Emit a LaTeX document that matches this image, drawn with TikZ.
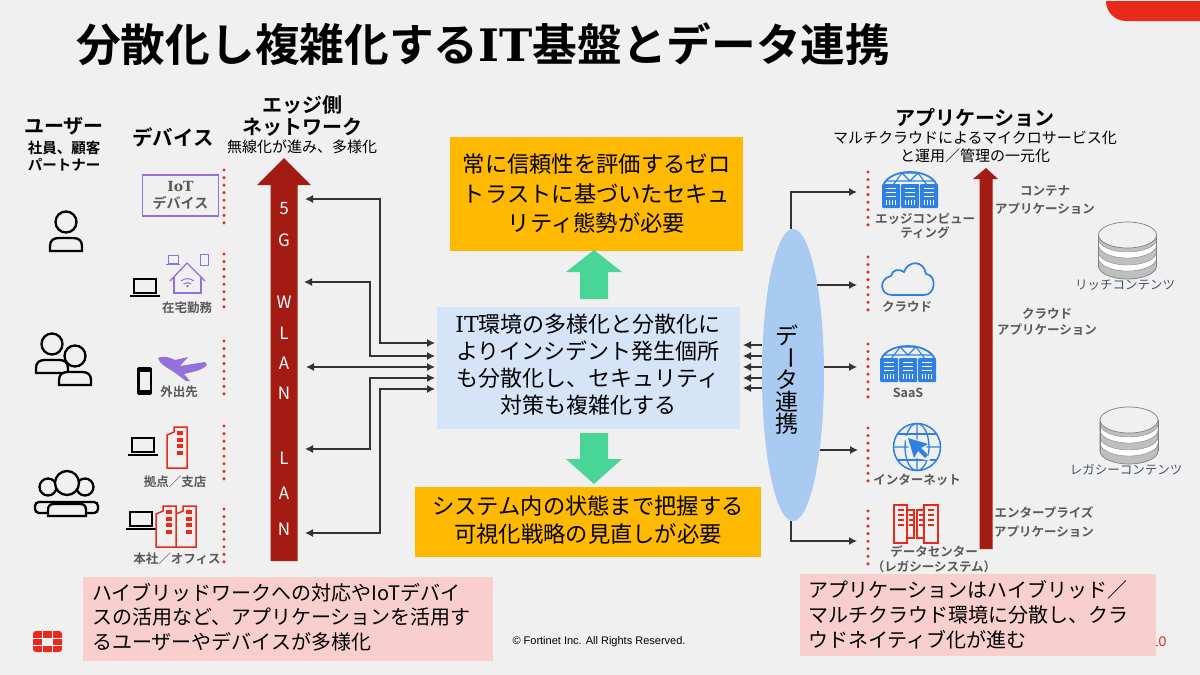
\documentclass[tikz,border=0pt]{standalone}
\usepackage{fontspec}
\setmainfont{Noto Sans CJK JP}[BoldFont={Noto Sans CJK JP Bold}]
\newfontfamily\latinfont{Liberation Sans}
\newfontfamily\slabfont{DejaVu Serif}
\usetikzlibrary{arrows.meta,shapes.geometric}
\definecolor{fondgris}{HTML}{F0F0F0}
\definecolor{rougeF}{HTML}{E8291C}
\definecolor{rougeA}{HTML}{A31B12}
\definecolor{orangeB}{HTML}{FFB900}
\definecolor{bleuB}{HTML}{D6E4F8}
\definecolor{bleuE}{HTML}{A9CBF1}
\definecolor{bleuI}{HTML}{2F80E4}
\definecolor{vertF}{HTML}{48D597}
\definecolor{roseB}{HTML}{F9CFCD}
\definecolor{violetI}{HTML}{9470DC}
\definecolor{grisT}{HTML}{595959}
\definecolor{ardoise}{HTML}{44546A}
\newcommand{\fs}[2]{\fontsize{#1}{#2}\selectfont}
\newcommand{\IT}{{\slabfont IT}}
\tikzset{conn/.style = {draw=black!80, line width=1.2, -{Latex[length=8,width=8]}},
         connd/.style = {conn, {Latex[length=8,width=8]}-{Latex[length=8,width=8]}},
         head/.style = {font=\fs{20}{22}\bfseries, align=center, inner sep=0},
         soustitre/.style = {font=\fs{15}{18}, align=center, inner sep=0},
         petit/.style = {font=\fs{12.5}{14.5}\bfseries, text=grisT, align=center, inner sep=0},
         contenu/.style = {font=\fs{12.5}{15}, text=ardoise, align=center, inner sep=0},
         boite/.style = {font=\fs{22.3}{29.5}, align=center, inner sep=0},
         lettre/.style = {font=\fs{17}{17}, text=white, inner sep=0},
         person/.pic = {\draw[line width=2.3] (0,-29) circle (10.5);
                        \draw[line width=2.3, fill=fondgris] (-16,0) -- (-16,-5) .. controls (-16,-11) and (-12,-13) .. (-7,-13) -- (7,-13) .. controls (12,-13) and (16,-11) .. (16,-5) -- (16,0) -- cycle;},
         laptop/.pic = {\draw[line width=1.8] (-11,-17) rectangle (11,-3);
                        \draw[line width=1.8] (-15,0) -- (15,0);},
         immeuble/.pic = {\draw[rougeF, line width=1.5, fill=fondgris] (-10,0) -- (-10,-33) -- (-3,-36) -- (-3,-41) -- (10,-41) -- (10,0) -- cycle;
                          \foreach \ya in {-37,-30,-24,-17} {\fill[rougeF] (0,\ya) rectangle (6,\ya+4);}},
         dome/.pic = {\draw[bleuI, line width=1.8] (-27,-8) arc (180:360:27 and 16);
                      \draw[bleuI, line width=1.1] (-23,-15) -- (23,-15) (-17,-11) -- (-8,-23) -- (0,-15) -- (8,-23) -- (17,-11) (-8,-23) -- (8,-23);
                      \foreach \xa in {-19,0,19} {\fill[bleuI, rounded corners=1] (\xa-9,-12) rectangle (\xa+9,12);
                        \foreach \ya in {-8,-4,0} {\draw[white, line width=0.9] (\xa-5,\ya) -- (\xa+5,\ya);}
                        \foreach \xb in {-5,-2,1,4} {\draw[white, line width=1] (\xa+\xb,4) -- (\xa+\xb,9);}}},
         disque/.pic = {\draw[gray, fill=black!25, line width=0.7] (-29,0) -- (-29,31) arc (180:0:29 and 13) -- (29,0) -- cycle;
                        \foreach \ya in {4,17} {\fill[white, draw=gray, line width=0.4] (-29,\ya) arc (180:0:29 and 13) -- (29,\ya+6) arc (0:180:29 and 13) -- cycle;}
                        \draw[gray, line width=0.7] (-29,0) -- (-29,31) (29,0) -- (29,31);
                        \draw[gray, fill=black!6, line width=0.7] (0,0) ellipse (29 and 13);}
        }
\begin{document}
\begin{tikzpicture}[x=1pt, y=-1pt]
  \useasboundingbox[fill=fondgris] (0,0) rectangle (1200,675);

  \fill[rougeF] (1106,1) -- (1200,1) -- (1200,21) -- (1126,21) arc (90:180:20) -- cycle;
  \node[font=\fs{44.7}{48}\bfseries, anchor=west, inner sep=0] (titre) at (76,44) {分散化し複雑化する\IT{}基盤とデータ連携};

  \node[head] (user) at (64,126) {ユーザー};
  \node[font=\fs{14.5}{17}\bfseries, align=center, inner sep=0] (usersub) at (64,156) {社員、顧客\\パートナー};
  \node[head, font=\fs{20.5}{22}\bfseries] (device) at (173,137) {デバイス};
  \node[head] (edge) at (302,116) {エッジ側\\ネットワーク};
  \node[soustitre] (edgesub) at (302,147) {無線化が進み、多様化};
  \node[head] (app) at (975,118) {アプリケーション};
  \node[soustitre] (appsub) at (975,147) {マルチクラウドによるマイクロサービス化\\と運用／管理の一元化};

  \path (66,251) pic {person};
  \path (52,373) pic {person};
  \path (75,385) pic {person};
  \draw[line width=2.3] (48,487) circle (8.5) (85,487) circle (8.5);
  \draw[line width=2.3, rounded corners=4] (35,513) -- (35,502) -- (98,502) -- (98,513) -- cycle;
  \draw[line width=2.3, fill=fondgris] (67,483) circle (12);
  \draw[line width=2.3, fill=fondgris] (48,516) -- (48,510) .. controls (48,506) and (50,504) .. (54,504) -- (80,504) .. controls (84,504) and (86,506) .. (86,510) -- (86,516) -- cycle;

  \node[draw=violetI, line width=1.4, fill=fondgris, minimum width=76, minimum height=41, font=\fs{14}{16.5}\bfseries, text=grisT, align=center, inner sep=0] (iot) at (180.5,195.5) {{\slabfont IoT}\\デバイス};

  \path (145,296) pic {laptop};
  \draw[violetI, line width=1.3] (174,277) -- (174,293) -- (201,293) -- (201,277);
  \draw[violetI, line width=1.3] (170,281) -- (187,263) -- (205,281);
  \draw[violetI, line width=1] (181,281) arc (230:310:10) (183.5,284) arc (230:310:6);
  \fill[violetI] (187.5,286) circle (1.4);
  \draw[violetI, line width=0.8] (168,255) rectangle (178,263) (166,264.5) -- (180,264.5);
  \draw[violetI, line width=0.8] (200.5,254) rectangle (208.5,265);
  \node[petit] (home) at (187,308) {在宅勤務};

  \draw[line width=1.8, fill=black, rounded corners=1] (138,368) rectangle (151,394);
  \fill[fondgris] (139.5,372) rectangle (149.5,390);
  \fill[violetI] (158,358) .. controls (165,355) and (170,358) .. (175,360) -- (188,357) -- (180,366) -- (205,362) -- (207,365) .. controls (200,372) and (190,372) .. (184,374) -- (190,381) -- (186,381) -- (174,372) .. controls (168,368) and (160,365) .. (158,358) -- cycle;
  \node[petit] (mobile) at (179,392) {外出先};

  \path (143,455) pic {laptop};
  \path (177,468) pic {immeuble};
  \node[petit] (branch) at (175,482) {拠点／支店};

  \path (141,529) pic {laptop};
  \path (186,547) pic {immeuble};
  \path (166,547) pic {immeuble};
  \node[petit] (hq) at (177,559) {本社／オフィス};

  \foreach \yd in {170,254,341,426,509} {
    \foreach \i in {0,...,7} {\fill[rougeF] (224,\yd+\i*7.55) circle (1.7);}
  }
  \foreach \yd in {172,257,344,428,511} {
    \foreach \i in {0,...,7} {\fill[rougeF] (868,\yd+\i*7.55) circle (1.7);}
  }

  \fill[rougeA] (284,158) -- (311,185) -- (297.5,185) -- (297.5,561) -- (270.5,561) -- (270.5,185) -- (257,185) -- cycle;
  \foreach \yl/\txt in {209/5,240/G,302/W,333/L,363/A,393/N,458/L,493/A,529/N} {
    \node[lettre] at (284,\yl) {\txt};
  }

  \node[fill=orangeB, minimum width=293, minimum height=114, boite] (trust) at (596.5,194) {常に信頼性を評価するゼロ\\トラストに基づいたセキュ\\リティ態勢が必要};
  \node[fill=bleuB, minimum width=303, minimum height=122, inner sep=0] (env) at (588.5,368) {};
  \node[boite, font=\fs{22}{27}] (envtxt) at (588,365) {\IT{}環境の多様化と分散化に\\よりインシデント発生個所\\も分散化し、セキュリティ\\対策も複雑化する};
  \node[fill=orangeB, minimum width=346, minimum height=70, inner sep=0] (view) at (588,522) {};
  \node[boite, font=\fs{22.3}{28}] (viewtxt) at (588,520) {システム内の状態まで把握する\\可視化戦略の見直しが必要};
  \fill[vertF] (594,250) -- (622,272) -- (608,272) -- (608,299) -- (580,299) -- (580,272) -- (566,272) -- cycle;
  \fill[vertF] (594,484) -- (622,459) -- (608,459) -- (608,433) -- (580,433) -- (580,459) -- (566,459) -- cycle;

  \coordinate (r1) at (305,199);
  \coordinate (r2) at (304,282);
  \coordinate (r3) at (306,367);
  \coordinate (r4) at (305,449);
  \coordinate (r5) at (305,533);
  \coordinate (e1) at (435,343);
  \coordinate (e2) at (435,356);
  \coordinate (e3) at (435,367);
  \coordinate (e4) at (435,378);
  \coordinate (e5) at (435,389);
  \draw[connd] (r1) -- (380,199) -- (380,343) -- (e1);
  \draw[connd] (r2) -- (370,282) -- (370,356) -- (e2);
  \draw[connd] (r3) -- (e3);
  \draw[connd] (r4) -- (370,449) -- (370,378) -- (e4);
  \draw[connd] (r5) -- (380,533) -- (380,389) -- (e5);

  \node[ellipse, fill=bleuE, minimum width=62, minimum height=292, inner sep=0] (data) at (793,375) {};
  \foreach \yl/\txt in {335/デ,380/タ,402/連,424/携} {
    \node[font=\fs{23}{23}, inner sep=0] at (787,\yl) {\txt};
  }
  \node[font=\fs{23}{23}, inner sep=0, rotate=-90] at (787,358) {ー};

  \foreach \yl in {345,356,367,378,388} {
    \draw[conn] (data.west |- 0,\yl) -- (743,\yl);
  }

  \coordinate (c1) at (857,192);
  \coordinate (c2) at (857,285);
  \coordinate (c3) at (857,367);
  \coordinate (c4) at (858,450);
  \coordinate (c5) at (857,541);
  \draw[conn] (data.north -| 791,0) |- (c1);
  \draw[conn] (c2 -| data.75) -- (c2);
  \draw[conn] (c3 -| data.east) -- (c3);
  \draw[conn] (c4 -| data.-71) -- (c4);
  \draw[conn] (data.south -| 791,0) |- (c5);

  \path (910,196) pic {dome};
  \node[petit] (edgecomp) at (925,226) {エッジコンピュー\\ティング};

  \draw[bleuI, line width=1.7] (892,295) .. controls (880,295) and (878,279) .. (891,276) .. controls (892,270) and (899,268) .. (904,272) .. controls (908,260) and (924,260) .. (926,274) .. controls (937,275) and (936,295) .. (924,295) -- cycle;
  \node[petit] (cloud) at (907,307) {クラウド};

  \path (908,370) pic {dome};
  \node[petit] (saas) at (908,393) {SaaS};

  \draw[bleuI, line width=1.5] (917,447) circle (23.5);
  \draw[bleuI, line width=1.3] (917,423.5) -- (917,470.5) (893.5,447) -- (940.5,447) (917,447) ellipse (12 and 23.5);
  \draw[bleuI, line width=1.2] (898,434) -- (936,434) (898,460) -- (936,460);
  \fill[fondgris] (903,435) -- (925,442) -- (930,461) -- (913,457) -- cycle;
  \fill[bleuI] (908,438) -- (928,444) -- (921,448) -- (928,455) -- (925,458) -- (918,451) -- (914,458) -- cycle;
  \node[petit] (net) at (917,480) {インターネット};

  \draw[rougeF, line width=1.4] (894,505) rectangle (907,543) (907,510) rectangle (914,538) (917,510) rectangle (924,538) (924,505) rectangle (938,543);
  \foreach \xr/\wr in {898/6,928/6,908.5/4,919/4} {
    \foreach \ya in {510,515,520,525} {\draw[rougeF, line width=1.3] (\xr,\ya) -- (\xr+\wr,\ya);}
  }
  \node[petit] (dc) at (934,559) {データセンター\\（レガシーシステム）};

  \fill[rougeA] (986,168) -- (998,179) -- (992.5,179) -- (992.5,549) -- (979.5,549) -- (979.5,179) -- (973,179) -- cycle;
  \node[petit, font=\fs{12.5}{18}\bfseries] (apc) at (1045,200) {コンテナ\\アプリケーション};
  \node[petit, font=\fs{12.5}{15.5}\bfseries] (apk) at (1047,322) {クラウド\\アプリケーション};
  \node[petit, font=\fs{12.5}{19}\bfseries] (ape) at (1044,522) {エンタープライズ\\アプリケーション};

  \path (1127.5,235) pic {disque};
  \node[contenu] (rich) at (1125,285) {リッチコンテンツ};
  \path (1129,420) pic {disque};
  \node[contenu] (legacy) at (1126,470) {レガシーコンテンツ};

  \node[font=\latinfont\fs{14}{16}, text=rougeF, inner sep=0] (pagenum) at (1158.6,642) {10};
  \node[fill=roseB, minimum width=410, minimum height=84, inner sep=0] (pinkl) at (288,619) {};
  \node[font=\fs{20}{24.7}, align=left, anchor=west, inner sep=0] (txtl) at (92,617) {ハイブリッドワークへの対応やIoTデバイ\\スの活用など、アプリケーションを活用す\\るユーザーやデバイスが多様化};
  \node[font=\latinfont\fs{11}{13}, inner sep=0] (copy) at (599,642) {© Fortinet Inc. All Rights Reserved.};
  \node[fill=roseB, minimum width=356, minimum height=82, inner sep=0] (pinkr) at (978,615) {};
  \node[font=\fs{20}{25}, align=left, anchor=west, inner sep=0] (txtr) at (808,615) {アプリケーションはハイブリッド／\\マルチクラウド環境に分散し、クラ\\ウドネイティブ化が進む};

  \fill[rougeF, rounded corners=3] (33,631) rectangle (62,652);
  \draw[white, line width=0.8] (33,638) -- (62,638) (33,645) -- (62,645) (42.5,631) -- (42.5,652) (52.5,631) -- (52.5,652);
  \fill[fondgris] (43,638.5) rectangle (52,644.5);
\end{tikzpicture}
\end{document}
